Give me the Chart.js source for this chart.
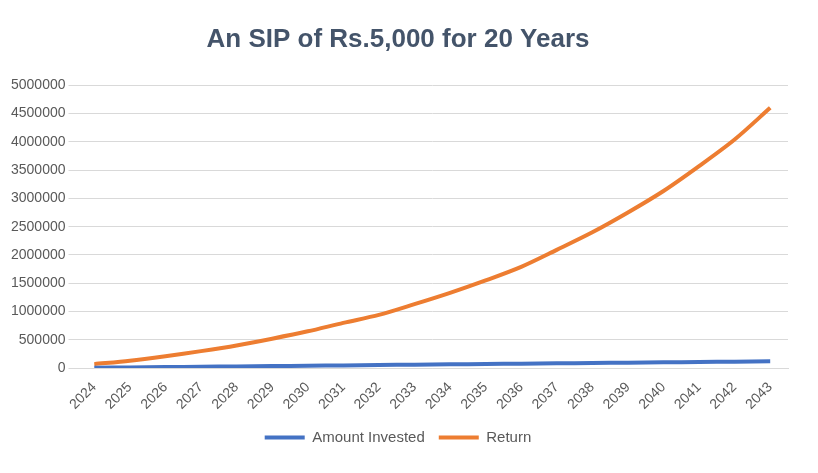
<!DOCTYPE html>
<html><head><meta charset="utf-8">
<script src="https://cdn.jsdelivr.net/npm/chart.js@4/dist/chart.umd.min.js"></script>
<style>body{margin:0;background:#fff}#w{width:818px;height:473px;position:relative}</style>
</head><body><div id="w"><canvas id="c"></canvas></div>
<script>
const years=["2024","2025","2026","2027","2028","2029","2030","2031","2032","2033","2034","2035","2036","2037","2038","2039","2040","2041","2042","2043"];
const invested=[6000,12000,18000,24000,30000,36000,42000,48000,54000,60000,66000,72000,78000,84000,90000,96000,102000,108000,114000,120000];
const returns=[70000,130000,210000,300000,400000,520000,650000,800000,940000,1130000,1330000,1550000,1790000,2090000,2400000,2750000,3130000,3570000,4040000,4600000];
Chart.defaults.font.family="'Liberation Sans','Open Sans',sans-serif";
new Chart(document.getElementById('c'),{type:'line',
data:{labels:years,datasets:[
{label:'Amount Invested',data:invested,borderColor:'#4472c4',backgroundColor:'#4472c4',borderWidth:4,pointRadius:0,tension:0.3},
{label:'Return',data:returns,borderColor:'#ed7d31',backgroundColor:'#ed7d31',borderWidth:4,pointRadius:0,tension:0.3}]},
options:{responsive:true,maintainAspectRatio:false,animation:false,
layout:{padding:{left:8,right:30,top:12,bottom:18}},
plugins:{title:{display:true,text:'An SIP of Rs.5,000 for 20 Years',color:'#44546a',font:{size:26,weight:'bold'},padding:{top:12,bottom:30}},
legend:{position:'bottom',labels:{color:'#595959',font:{size:15},boxWidth:40,boxHeight:0,padding:14,generateLabels:c=>Chart.defaults.plugins.legend.labels.generateLabels(c).map(l=>Object.assign(l,{lineWidth:4}))}}},
scales:{x:{offset:true,grid:{display:false},border:{color:'#d9d9d9'},ticks:{color:'#595959',font:{size:14},maxRotation:45,minRotation:45}},
y:{min:0,max:5000000,grid:{color:'#d9d9d9'},border:{display:false},ticks:{stepSize:500000,color:'#595959',font:{size:14},callback:v=>String(v)}}}}});
</script></body></html>
